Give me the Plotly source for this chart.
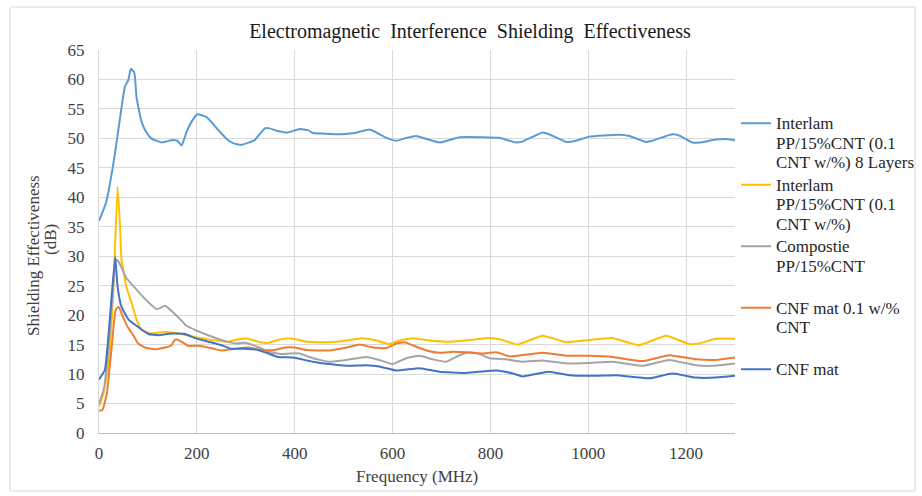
import plotly.graph_objects as go

# ---------------- data ----------------
freq_8layers = [0, 5, 15, 29, 39, 53, 60, 65, 72, 77, 87, 97, 107, 128, 148, 160, 169, 179, 189, 201,
                220, 244, 261, 274, 291, 318, 339, 349, 363, 386, 410, 427, 437, 461, 495, 522, 553,
                567, 590, 608, 625, 648, 696, 737, 784, 818, 853, 866, 907, 920, 955, 975, 1002, 1063,
                1084, 1118, 1131, 1172, 1186, 1213, 1227, 1261, 1281, 1300]
se_8layers = [36.0, 37.0, 39.3, 45.5, 51.1, 58.8, 59.9, 61.8, 61.2, 56.8, 52.8, 51.0, 50.0, 49.3, 49.7,
              49.6, 48.8, 51.1, 52.8, 54.1, 53.6, 51.4, 49.9, 49.2, 48.9, 49.7, 51.7, 51.7, 51.3, 51.0,
              51.6, 51.4, 50.9, 50.8, 50.7, 50.9, 51.5, 51.0, 50.0, 49.6, 50.0, 50.4, 49.3, 50.2, 50.2,
              50.1, 49.3, 49.5, 51.0, 50.7, 49.4, 49.6, 50.3, 50.6, 50.4, 49.4, 49.6, 50.7, 50.5, 49.3,
              49.3, 49.8, 49.9, 49.7]

freq_interlam = [0, 9, 19, 29, 38, 43, 46, 56, 67, 77, 87, 107, 135, 162, 196, 230, 264, 284, 305, 325,
                 346, 366, 390, 424, 471, 506, 536, 567, 594, 614, 641, 676, 710, 750, 791, 818, 846,
                 856, 907, 955, 1002, 1050, 1104, 1159, 1206, 1227, 1261, 1300]
se_interlam = [4.5, 6.7, 11.3, 23.7, 41.8, 35.0, 29.4, 24.8, 22.0, 19.2, 17.5, 16.9, 17.2, 16.9, 16.3,
               15.8, 15.5, 15.9, 16.0, 15.5, 15.3, 15.8, 16.1, 15.5, 15.4, 15.7, 16.1, 15.7, 15.1, 15.7,
               16.1, 15.7, 15.5, 15.7, 16.1, 15.9, 15.2, 15.0, 16.5, 15.4, 15.8, 16.1, 14.9, 16.5, 15.1,
               15.2, 16.0, 16.0]

freq_composite = [0, 10, 20, 28, 35, 40, 56, 77, 101, 118, 135, 159, 179, 199, 223, 250, 278, 298, 325,
                  346, 373, 390, 410, 437, 471, 506, 546, 573, 600, 628, 655, 682, 710, 737, 757, 778,
                  798, 832, 866, 907, 955, 1002, 1050, 1111, 1165, 1220, 1254, 1300]
se_composite = [5.0, 7.5, 15.0, 24.0, 29.4, 29.1, 26.3, 24.3, 22.2, 21.0, 21.6, 19.9, 18.2, 17.4, 16.6,
                15.8, 15.2, 15.3, 14.6, 13.8, 13.4, 13.5, 13.5, 12.7, 12.1, 12.4, 12.9, 12.4, 11.7, 12.7,
                13.1, 12.5, 12.1, 13.2, 13.7, 13.4, 12.7, 12.5, 12.1, 12.3, 11.8, 11.9, 12.1, 11.4, 12.4,
                11.5, 11.4, 11.8]

freq_cnf_cnt = [0, 7, 16, 26, 34, 40, 50, 60, 70, 80, 94, 114, 135, 148, 155, 162, 182, 203, 230, 250,
                278, 305, 332, 359, 380, 400, 424, 471, 506, 533, 560, 587, 608, 625, 641, 669, 696,
                723, 750, 784, 812, 839, 907, 955, 1002, 1050, 1111, 1165, 1220, 1261, 1300]
se_cnf_cnt = [3.8, 3.9, 6.7, 14.6, 20.9, 21.4, 19.5, 17.8, 16.6, 15.2, 14.5, 14.2, 14.5, 14.9, 15.8,
              15.8, 14.8, 14.8, 14.4, 14.0, 14.3, 14.5, 14.1, 14.1, 14.5, 14.5, 14.1, 14.0, 14.5, 15.0,
              14.5, 14.4, 15.2, 15.4, 14.9, 14.0, 13.6, 13.8, 13.7, 13.5, 13.7, 13.0, 13.6, 13.1, 13.1,
              12.9, 12.2, 13.2, 12.5, 12.4, 12.8]

freq_cnf = [0, 12, 22, 33, 38, 46, 60, 80, 101, 121, 148, 176, 196, 223, 250, 271, 298, 325, 346, 366,
            397, 437, 471, 506, 546, 573, 608, 655, 696, 750, 812, 846, 866, 920, 961, 1016, 1057, 1125,
            1172, 1220, 1261, 1300]
se_cnf = [9.1, 10.7, 19.2, 29.9, 24.8, 21.4, 19.3, 18.0, 16.8, 16.6, 16.9, 16.8, 16.1, 15.5, 14.9, 14.3,
          14.3, 14.1, 13.5, 12.9, 12.8, 12.1, 11.7, 11.4, 11.5, 11.3, 10.6, 11.0, 10.4, 10.2, 10.6, 10.1,
          9.6, 10.4, 9.8, 9.7, 9.8, 9.3, 10.1, 9.4, 9.4, 9.7]

series_lines = [
    ["Interlam", "PP/15%CNT (0.1", "CNT w/%) 8 Layers"],
    ["Interlam", "PP/15%CNT (0.1", "CNT w/%)"],
    ["Compostie", "PP/15%CNT", "\u00a0"],
    ["CNF mat 0.1 w/%", "CNT", "\u00a0"],
    ["CNF mat", "\u00a0", "\u00a0"],
]
series_colors = ["#5B9BD5", "#FFC000", "#A5A5A5", "#ED7D31", "#4472C4"]

x_ticks = [0, 200, 400, 600, 800, 1000, 1200]
y_ticks = list(range(0, 70, 5))

title_text = "Electromagnetic  Interference  Shielding  Effectiveness"
x_title = "Frequency (MHz)"
y_title_line1 = "Shielding Effectiveness"
y_title_line2 = "(dB)"

# ---------------- figure ----------------
FONT = "Liberation Serif"
TXT = "#404040"

fig = go.Figure()
all_data = [
    (freq_8layers, se_8layers),
    (freq_interlam, se_interlam),
    (freq_composite, se_composite),
    (freq_cnf_cnt, se_cnf_cnt),
    (freq_cnf, se_cnf),
]
for (fx, fy), lines, col in zip(all_data, series_lines, series_colors):
    name = "<br>".join('<span style="font-size:17px">%s</span>' % s for s in lines)
    fig.add_trace(go.Scatter(
        x=fx, y=fy, name=name, mode="lines",
        line=dict(color=col, width=2, shape="spline", smoothing=0.4),
    ))

L, R, T, B = 99, 735, 50, 433
W, H = 922, 496
pw, ph = R - L, B - T

def px_x(px):
    return (px - L) / pw

def px_y(py):
    return (B - py) / ph

fig.update_layout(
    width=W, height=H,
    margin=dict(l=L, r=W - R, t=T, b=H - B, autoexpand=False),
    paper_bgcolor="white", plot_bgcolor="white",
    font=dict(family=FONT, size=16, color=TXT),
    title=dict(text=title_text, x=470 / W, xref="container", xanchor="center",
               y=1 - 31 / H, yref="container", yanchor="middle",
               font=dict(family=FONT, size=20, color="#1a1a1a")),
    showlegend=True,
    legend=dict(x=px_x(736), xanchor="left", y=px_y(107), yanchor="top",
                valign="top", tracegroupgap=0, itemwidth=30,
                font=dict(family=FONT, size=15, color="#262626"),
                bgcolor="rgba(0,0,0,0)"),
    xaxis=dict(range=[0, 1300], tickvals=x_ticks, showgrid=True, gridcolor="#D9D9D9", gridwidth=1,
               showline=True, linecolor="#BFBFBF", linewidth=1, zeroline=False, ticks="",
               ticklabelstandoff=5, tickfont=dict(family=FONT, size=17, color=TXT)),
    yaxis=dict(range=[0, 65], tickvals=y_ticks, showgrid=True, gridcolor="#D9D9D9", gridwidth=1,
               showline=True, linecolor="#D9D9D9", linewidth=1, zeroline=False, ticks="",
               ticklabelstandoff=10, tickfont=dict(family=FONT, size=17, color=TXT)),
    annotations=[
        dict(text=y_title_line1, xref="paper", yref="paper", x=px_x(33), y=px_y(256),
             xanchor="center", yanchor="middle", textangle=-90, showarrow=False,
             font=dict(family=FONT, size=17, color=TXT)),
        dict(text=y_title_line2, xref="paper", yref="paper", x=px_x(50), y=px_y(240),
             xanchor="center", yanchor="middle", textangle=-90, showarrow=False,
             font=dict(family=FONT, size=17, color=TXT)),
        dict(text=x_title, xref="paper", yref="paper", x=0.5, y=px_y(476),
             xanchor="center", yanchor="middle", showarrow=False,
             font=dict(family=FONT, size=17, color=TXT)),
    ],
    shapes=[
        dict(type="rect", xref="paper", yref="paper",
             x0=px_x(10), x1=px_x(915), y0=px_y(491), y1=px_y(7),
             line=dict(color="#D9D9D9", width=1), fillcolor="rgba(0,0,0,0)", layer="below"),
    ],
)

fig.write_html("out.html")
